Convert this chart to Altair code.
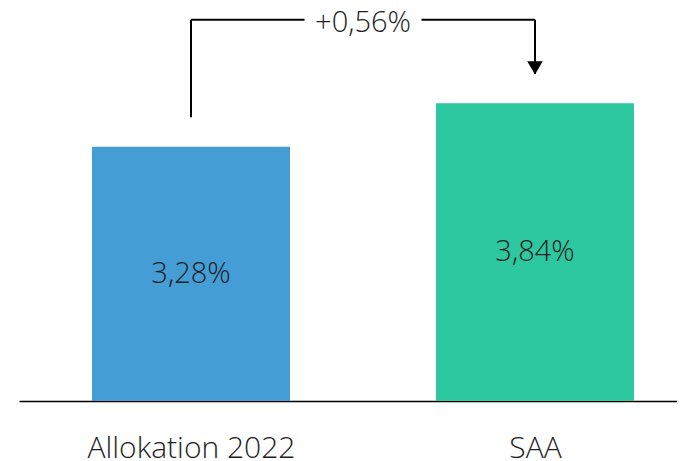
import altair as alt
import pandas as pd

categories = ["Allokation 2022", "SAA"]
values = [3.28, 3.84]
value_labels = ["3,28%", "3,84%"]
colors = ["#459DD6", "#2DC7A0"]
diff_label = "+0,56%"
connector_level = 4.92
connector_gap = 0.38
text_gap_half = 0.17

FONT = "Open Sans"
pos = list(range(len(categories)))
half = 0.2878
mid_x = (pos[0] + pos[1]) / 2

bars_df = pd.DataFrame({"cat": categories, "pos": pos, "val": values,
                        "label": value_labels, "color": colors})
bars_df["x0"] = bars_df["pos"] - half
bars_df["x1"] = bars_df["pos"] + half
bars_df["mid"] = bars_df["val"] / 2
bars_df["zero"] = 0.0

rules_df = pd.DataFrame({
    "x": [pos[0], pos[0], mid_x + text_gap_half, pos[1]],
    "x2": [pos[0], mid_x - text_gap_half, pos[1], pos[1]],
    "y": [values[0] + connector_gap, connector_level, connector_level, connector_level],
    "y2": [connector_level, connector_level, connector_level, values[1] + connector_gap],
})
arrow_df = pd.DataFrame({"x": [pos[1]], "y": [values[1] + connector_gap]})
diff_df = pd.DataFrame({"x": [mid_x], "y": [connector_level], "t": [diff_label]})

x_scale = alt.Scale(domain=[-0.5, 1.4128], nice=False, zero=False)
y_scale = alt.Scale(domain=[0, 5.07], nice=False, zero=True)

label_expr = "[" + ",".join("'" + c + "'" for c in categories) + "][datum.value]"

bars = alt.Chart(bars_df).mark_bar(cornerRadius=0).encode(
    x=alt.X("x0:Q", scale=x_scale, axis=alt.Axis(
        values=pos, labelExpr=label_expr, title=None, ticks=False, grid=False,
        domainColor="#000000", domainWidth=1.5, labelFontSize=30, labelFont=FONT,
        labelFontWeight=300, labelColor="#1e1e1e", labelPadding=56,
        labelBaseline="alphabetic", labelLimit=0)),
    x2="x1:Q",
    y=alt.Y("val:Q", scale=y_scale, axis=None),
    y2="zero:Q",
    color=alt.Color("color:N", scale=None),
)

bar_text = alt.Chart(bars_df).mark_text(
    font=FONT, fontSize=29, fontWeight=300, color="#1e1e1e", baseline="middle"
).encode(x=alt.X("pos:Q", scale=x_scale), y=alt.Y("mid:Q", scale=y_scale), text="label:N")

rules = alt.Chart(rules_df).mark_rule(color="#000000", strokeWidth=2).encode(
    x=alt.X("x:Q", scale=x_scale), x2="x2:Q",
    y=alt.Y("y:Q", scale=y_scale), y2="y2:Q",
)

arrow = alt.Chart(arrow_df).mark_point(
    shape="triangle-down", filled=True, size=240, color="#000000", opacity=1, yOffset=-6
).encode(x=alt.X("x:Q", scale=x_scale), y=alt.Y("y:Q", scale=y_scale))

diff_text = alt.Chart(diff_df).mark_text(
    font=FONT, fontSize=29, fontWeight=300, color="#1e1e1e", baseline="middle", dy=3
).encode(x=alt.X("x:Q", scale=x_scale), y=alt.Y("y:Q", scale=y_scale), text="t:N")

chart = alt.layer(bars, bar_text, rules, arrow, diff_text).properties(
    width=658, height=393,
    padding={"left": 11, "top": 0, "right": 0, "bottom": 60},
    autosize=alt.AutoSizeParams(type="none"),
).configure_view(stroke=None)

chart.save("out.html", embed_options={"renderer": "svg", "actions": False})
